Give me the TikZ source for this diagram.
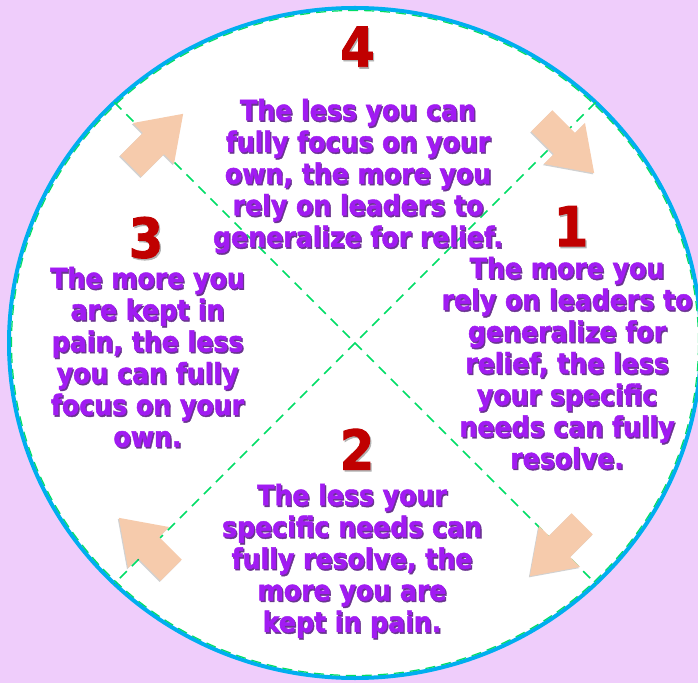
\documentclass[tikz,border=0pt]{standalone}
\usepackage{fontspec}
\setmainfont{DejaVu Sans}[FakeStretch=0.9, BoldFeatures={FakeBold=1.6}]
\usepackage{xcolor}
\usepackage{tikz}
\usetikzlibrary{shapes.geometric, shadows}

\definecolor{pagebg}{HTML}{EFCDFB}
\definecolor{rimblue}{HTML}{00AEEF}
\definecolor{rimgreen}{HTML}{00DD66}
\definecolor{peach}{HTML}{F6CBAC}
\definecolor{stepred}{HTML}{C00000}
\definecolor{blurbviolet}{HTML}{A11BF2}
\definecolor{blurbshade}{HTML}{6A3490}

\newcommand{\shaded}[2][blurbshade]{\makebox[0pt][l]{\kern1.3pt\raisebox{-1.6pt}{\textcolor{#1}{#2}}}#2}

\tikzset{
  blurb/.style={text=blurbviolet, font=\bfseries\fontsize{28}{31.7}\selectfont, align=center, anchor=north, inner sep=0pt},
  stepnum/.style={text=stepred, font=\bfseries\fontsize{55}{55}\selectfont, inner sep=0pt},
  diagonal/.style={rimgreen, line width=1.5pt, dash pattern=on 10pt off 7pt},
  flowarrow/.pic={
    \fill[peach, drop shadow={shadow xshift=-1pt, shadow yshift=-1.2pt, opacity=0.18, fill=black}]
      (-37,-15) -- (-5,-15) -- (-5,-29) -- (37,0) -- (-5,29) -- (-5,15) -- (-37,15) -- cycle;
  }
}

\begin{document}
\begin{tikzpicture}[x=1pt, y=1pt]
			% Page, ring and diagonals:
			\clip (0,0) rectangle (698,683);
			\fill[pagebg] (0,0) rectangle (698,683);
			\node[ellipse, draw=rimblue, fill=white, line width=4pt, minimum width=692pt, minimum height=670pt, inner sep=0pt, outer sep=0pt] (ring) at (355,340){};
			\draw[rimgreen, line width=1.2pt, dash pattern=on 10pt off 6pt] (ring.center) ellipse [x radius=343.5, y radius=332.5];
			\draw[diagonal] (ring.135) -- (ring.-45);
			\draw[diagonal] (ring.45) -- (ring.-135);
			% Arrows round the ring:
			\pic[rotate=45] (arrowtl) at (157,543){flowarrow};
			\pic[rotate=-45] (arrowtr) at (568,536){flowarrow};
			\pic[rotate=-135] (arrowbr) at (556,133){flowarrow};
			\pic[rotate=135] (arrowbl) at (145,139){flowarrow};
			% Steps and their texts:
			\node[stepnum] (num4) at (357.5,635.5){\shaded[gray!60]{4}};
			\node[blurb] (txt4) at (358,584.3){\shaded{The less you can}\\\shaded{fully focus on your}\\\shaded{own, the more you}\\\shaded{rely on leaders to}\\\shaded{generalize for relief.}};
			\node[stepnum] (num1) at (571,456){\shaded[gray!60]{1}};
			\node[blurb] (txt1) at (567,426.3){\shaded{The more you}\\\shaded{rely on leaders to}\\\shaded{generalize for}\\\shaded{relief, the less}\\\shaded{your specific}\\\shaded{needs can fully}\\\shaded{resolve.}};
			\node[stepnum] (num3) at (146,444.5){\shaded[gray!60]{3}};
			\node[blurb] (txt3) at (147.5,416.3){\shaded{The more you}\\\shaded{are kept in}\\\shaded{pain, the less}\\\shaded{you can fully}\\\shaded{focus on your}\\\shaded{own.}};
			\node[stepnum] (num2) at (357,233){\shaded[gray!60]{2}};
			\node[blurb] (txt2) at (352,199.3){\shaded{The less your}\\\shaded{specific needs can}\\\shaded{fully resolve, the}\\\shaded{more you are}\\\shaded{kept in pain.}};
		\end{tikzpicture}
\end{document}
